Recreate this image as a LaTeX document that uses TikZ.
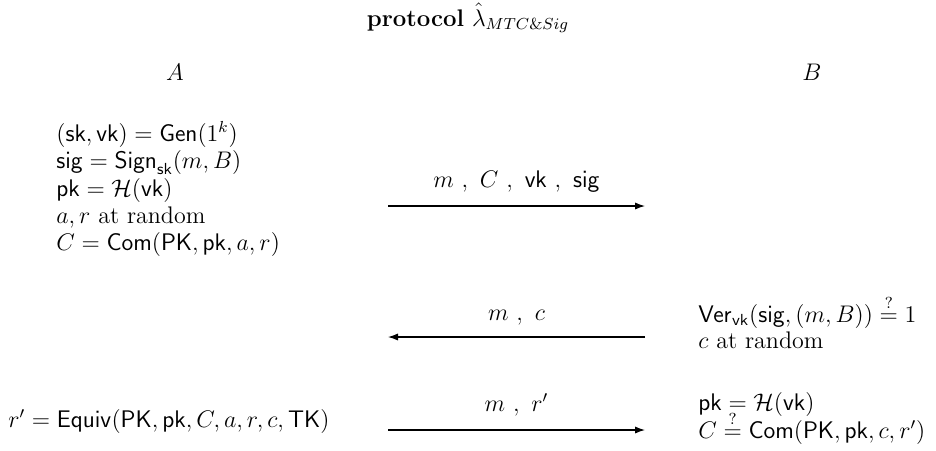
\documentclass[tikz,border=0pt]{standalone}
\usepackage{amsmath,amssymb}
\usetikzlibrary{arrows.meta}
\begin{document}
\begin{tikzpicture}[x=0.5pt,y=-0.5pt,
  txt/.style={inner sep=0pt,font=\fontsize{12}{13.6}\selectfont},
  bln/.style={txt,anchor=base west},
  ctr/.style={txt,anchor=base},
  msg/.style={line width=0.6pt,-{Latex[length=5pt,width=3.6pt]}}]
\useasboundingbox (0,0) rectangle (936,450);
\node[ctr] (title) at (468,26) {$\textbf{protocol}\ \hat{\lambda}_{MTC\&Sig}$};
\node[ctr] (A) at (175,80) {$A$};
\node[ctr] (B) at (812,80) {$B$};
% A's first step
\node[bln] (a1) at (56,141.5) {$(\mathsf{sk},\mathsf{vk})=\mathsf{Gen}(1^k)$};
\node[bln] (a2) at (56,168.75) {$\mathsf{sig}=\mathsf{Sign}_{\mathsf{sk}}(m,B)$};
\node[bln] (a3) at (56,196) {$\mathsf{pk}=\mathcal{H}(\mathsf{vk})$};
\node[bln] (a4) at (56,223.25) {$a,r$ at random};
\node[bln] (a5) at (56,250.5) {$C=\mathsf{Com}(\mathsf{PK},\mathsf{pk},a,r)$};
\coordinate (s1) at (388,206);
\coordinate (e1) at (645,206);
\draw[msg] (s1) -- (e1) node[ctr,midway,yshift=9.5pt] (l1) {$m\ ,\ C\ ,\ \mathsf{vk}\ ,\ \mathsf{sig}$};
% B's check
\coordinate (s2) at (645,337);
\coordinate (e2) at (388,337);
\draw[msg] (s2) -- (e2) node[ctr,midway,yshift=8.5pt] (l2) {$m\ ,\ c$};
\node[bln] (b1) at (698,322) {$\mathsf{Ver}_{\mathsf{vk}}(\mathsf{sig},(m,B))\overset{?}{=}1$};
\node[bln] (b2) at (698,348) {$c$ at random};
% A's response
\node[bln] (r1) at (8,427) {$r'=\mathsf{Equiv}(\mathsf{PK},\mathsf{pk},C,a,r,c,\mathsf{TK})$};
\coordinate (s3) at (388,430);
\coordinate (e3) at (645,430);
\draw[msg] (s3) -- (e3) node[ctr,midway,yshift=9.5pt] (l3) {$m\ ,\ r'$};
\node[bln] (b3) at (698,410) {$\mathsf{pk}=\mathcal{H}(\mathsf{vk})$};
\node[bln] (b4) at (698,438) {$C\overset{?}{=}\mathsf{Com}(\mathsf{PK},\mathsf{pk},c,r')$};
\end{tikzpicture}
\end{document}
